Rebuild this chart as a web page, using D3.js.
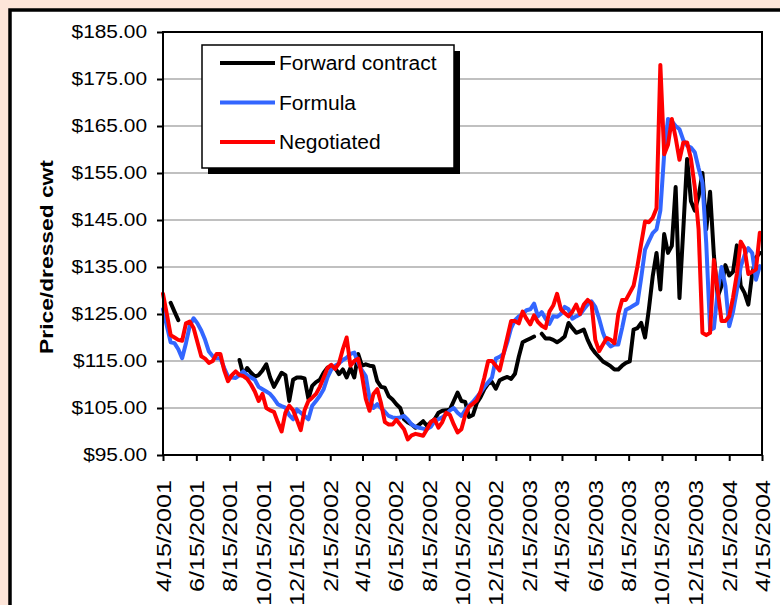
<!DOCTYPE html>
<meta charset="UTF-8">
<style>
body { margin: 0; background: #fde5d9; }
svg { display: block; }
text { font-family: "Liberation Sans", Arial, sans-serif; fill: #000; }
.grid line { stroke: #c0c0c0; stroke-width: 2px; }
.series { fill: none; stroke-width: 4px; stroke-linejoin: round; stroke-linecap: round; }
</style>
<body>
<script src="https://cdn.jsdelivr.net/npm/d3@7/dist/d3.min.js"></script>
<script>

// weekly prices, first week 4/15/2001 (null = no report that week)
var firstWeek = "4/15/2001";

var tickLabels = ["4/15/2001", "6/15/2001", "8/15/2001", "10/15/2001", "12/15/2001",
  "2/15/2002", "4/15/2002", "6/15/2002", "8/15/2002", "10/15/2002", "12/15/2002",
  "2/15/2003", "4/15/2003", "6/15/2003", "8/15/2003", "10/15/2003", "12/15/2003",
  "2/15/2004", "4/15/2004"];

var yTicks = [95, 105, 115, 125, 135, 145, 155, 165, 175, 185];

var forwardContract = [
  null, null, 127.4, 125.5, 123.7, null, null, null, null, null,
  null, null, null, null, null, null, null, null, null, null,
  115.2, 112, 113.5, 112.5, 111.7, 112, 113, 114.3, 111.5, 109.5,
  111, 112.5, 112, 106.5, 111, 111.5, 111.5, 111.3, 107, 109.7,
  110.5, 111, 112.5, 113.6, 113.6, 113.5, 112.2, 113.2, 111.5, 113.5,
  111.5, 116.5, 114, 114.3, 114, 113.9, 110.7, 109.5, 109.3, 107.5,
  106.8, 105.8, 105, 102.6, 101.9, 101.5, 100.8, 101.5, 102.2, 101.2,
  102, 102.6, 104, 104.4, 104.5, 104.7, 106.5, 108.3, 106.5, 106.3,
  103.1, 103.5, 106, 107.3, 109, 110.2, 110.5, 109.1, 110.9, 111.3,
  111.6, 111.2, 112.3, 115.9, 119, 119.4, 119.8, 120.2, null, 120.8,
  119.8, 119.8, 119.5, 119, 119.5, 120.2, 123.1, 122, 121, 121.3,
  121.7, 119.5, 117.8, 116.7, 115.8, 114.9, 114.4, 113.9, 113.2, 113.2,
  114, 114.6, 114.9, 121.7, 122, 123.1, 120, 126, 133, 138,
  130.2, 142, 138, 139.5, 152, 128.4, 143, 158, 149, 147,
  150, 155, 143, 151, 137.5, 128.7, 131, 135.4, 133.2, 134,
  139.6, 131, 129.5, 127, 133.5, 137, 138
];

var formula = [
  126, 122.5, 119, 118.8, 117.5, 115.6, 118.8, 122.5, 124.1, 123,
  121.5, 119.5, 117, 116, 115.6, 115.6, 113.5, 111.7, 111.5, 111.4,
  112, 112.8, 112, 111.5, 111, 109.5, 109, 108.5, 108, 107,
  105.8, 105.4, 105.1, 103.5, 102.6, 104.7, 104, 103.3, 102.6, 105.5,
  106.5, 107.6, 109, 111.5, 113.2, 114, 114.5, 115.2, 115.7, 116.5,
  116.8, 114.5, 113, 111.8, 107, 105, 105.8, 105, 104.2, 103.3,
  103, 102.9, 103, 103.3, 102.5, 101.5, 101, 100.8, 100.6, 100.5,
  101, 102.2, 102.6, 103, 103.7, 104.5, 105, 104, 103.3, 104.5,
  105.5, 106.3, 107.3, 108.3, 109.5, 110.5, 111.5, 115.5, 115.9, 116.5,
  119, 122, 123.7, 124.5, 125, 125.8, 126, 127.2, 124.5, 125.4,
  124, 122.9, 124.5, 124.4, 125, 126.5, 126, 124, 124.5, 124.9,
  126, 127, 127.7, 126.5, 124, 121, 119, 118.1, 118.5, 118.5,
  122, 125.9, 126.3, 126.8, 127.3, 132.7, 138.7, 140.5, 142.2, 143,
  147, 159, 166.5, 166, 165, 164.3, 162, 160.8, 160.4, 159.4,
  156, 153, 140, 121.6, 122, 130, 135, 131, 122.4, 125.5,
  130, 135, 137.5, 139, 138, 132.3, 135.2
];

var negotiated = [
  129.3, 125, 120.5, 120, 119.5, 119.3, 123, 123.4, 122, 119,
  116, 115.5, 114.6, 115, 116.5, 116.5, 113, 110.7, 112, 112.8,
  112, 111.8, 111.2, 110, 108.5, 106.5, 108, 105, 104.5, 104.2,
  102, 100, 104, 105.5, 104.5, 102.5, 100.3, 104.5, 106.5, 107.2,
  108, 109.5, 111.5, 113.5, 114.2, 113.3, 114.5, 117.5, 120, 114,
  115, 115.5, 112, 107, 104.4, 108, 109, 106, 102, 101.5,
  101.5, 102.5, 101.5, 100.5, 98.3, 99.2, 99.5, 99.3, 99.1, 100.5,
  102, 102.6, 100.8, 102, 104, 103.5, 101.5, 99.8, 100.5, 103.5,
  105.3, 105.9, 106.6, 108.5, 111.5, 115, 115, 114, 113, 116.5,
  120, 123.5, 123.5, 123, 125.5, 124, 122.8, 124.7, 123.3, 122.5,
  122, 125.5, 126.8, 129.3, 126, 125.2, 124.5, 125.5, 127, 125,
  127, 128, 127.3, 119.5, 117.1, 118.5, 119.9, 119.5, 118.8, 125,
  128, 128, 129.5, 131, 135.1, 140, 144.7, 144.5, 145.5, 147.5,
  178, 159, 161, 166.5, 162.5, 157.8, 161.5, 161.5, 158, 152,
  143, 121, 120.5, 121, 136.5, 130, 123.5, 123.5, 124.5, 128.5,
  133.5, 140.4, 139, 133.5, 134, 134.5, 142.3
];

var seriesNames = ["Forward contract", "Formula", "Negotiated"];
var seriesColors = ["#000000", "#3366ff", "#ff0000"];
var seriesValues = [forwardContract, formula, negotiated];

var W = 780, H = 605;
var margin = {top: 32, right: 18, bottom: 150, left: 163};

var parseDate = d3.timeParse("%m/%d/%Y");
var start = parseDate(firstWeek);
var tickDates = tickLabels.map(parseDate);

var svg = d3.select("body").append("svg")
    .attr("width", W)
    .attr("height", H);

// white frame
svg.append("rect")
    .attr("x", 10).attr("y", 10)
    .attr("width", W + 20).attr("height", H + 20)
    .attr("fill", "#fff")
    .attr("stroke", "#000")
    .attr("stroke-width", 3.5);

var x = d3.scaleTime()
    .domain([tickDates[0], tickDates[tickDates.length - 1]])
    .range([margin.left, W - margin.right]);

var y = d3.scaleLinear()
    .domain([95, 185])
    .range([H - margin.bottom, margin.top]);

// stretch text a bit, the original fonts run wide
function widen(sel, f) {
  sel.each(function() {
    var l = this.getComputedTextLength();
    d3.select(this).attr("textLength", l * f).attr("lengthAdjust", "spacingAndGlyphs");
  });
}

// gridlines
svg.append("g").attr("class", "grid")
  .selectAll("line")
  .data(yTicks.slice(1, -1))
  .enter().append("line")
    .attr("x1", margin.left).attr("x2", W - margin.right)
    .attr("y1", function(d) { return y(d); })
    .attr("y2", function(d) { return y(d); });

// y axis
var yAxis = svg.append("g")
    .attr("transform", "translate(" + margin.left + ",0)")
    .call(d3.axisLeft(y).tickValues(yTicks).tickFormat(d3.format("$.2f")).tickSize(6).tickPadding(10));
yAxis.select(".domain").remove();
yAxis.selectAll(".tick line").attr("stroke", "#000").attr("stroke-width", 2);
yAxis.selectAll(".tick text")
    .attr("font-family", "Liberation Sans, Arial, sans-serif")
    .attr("font-size", 18);
widen(yAxis.selectAll(".tick text"), 1.16);

// x axis
var xAxis = svg.append("g")
    .attr("transform", "translate(0," + (H - margin.bottom) + ")")
    .call(d3.axisBottom(x).tickValues(tickDates).tickFormat(function(d, i) { return tickLabels[i]; }).tickSize(6));
xAxis.select(".domain").remove();
xAxis.selectAll(".tick line").attr("stroke", "#000").attr("stroke-width", 2);
xAxis.selectAll(".tick text")
    .attr("font-family", "Liberation Sans, Arial, sans-serif")
    .attr("font-size", 20)
    .attr("text-anchor", "end")
    .attr("transform", "rotate(-90)")
    .attr("x", -25)
    .attr("y", 0)
    .attr("dy", "0.35em");
widen(xAxis.selectAll(".tick text"), 1.26);

// lines
var line = d3.line()
    .defined(function(d) { return d != null; })
    .x(function(d, i) { return x(d3.timeDay.offset(start, 7 * i)); })
    .y(function(d) { return y(d); });

seriesValues.forEach(function(vals, k) {
  svg.append("path")
    .attr("class", "series")
    .attr("stroke", seriesColors[k])
    .attr("d", line(vals));
});

// plot frame
svg.append("rect")
    .attr("x", margin.left).attr("y", margin.top)
    .attr("width", W - margin.right - margin.left)
    .attr("height", H - margin.bottom - margin.top)
    .attr("fill", "none")
    .attr("stroke", "#000")
    .attr("stroke-width", 2);

// axis title
var yTitle = svg.append("text")
    .attr("transform", "translate(46,257) rotate(-90)")
    .attr("text-anchor", "middle")
    .attr("dy", "0.35em")
    .attr("font-size", 19)
    .attr("font-weight", "bold")
    .text("Price/dressed cwt");
widen(yTitle, 1.2);

// legend
var lg = svg.append("g").attr("transform", "translate(202,45)");
lg.append("rect")
    .attr("x", 6).attr("y", 6)
    .attr("width", 252).attr("height", 123)
    .attr("fill", "#000");
lg.append("rect")
    .attr("width", 252).attr("height", 123)
    .attr("fill", "#fff")
    .attr("stroke", "#000")
    .attr("stroke-width", 1.5);

var item = lg.selectAll("g.item")
    .data(seriesNames)
  .enter().append("g")
    .attr("class", "item")
    .attr("transform", function(d, i) { return "translate(0," + (18 + i * 39.5) + ")"; });
item.append("line")
    .attr("x1", 18).attr("x2", 73)
    .attr("stroke", function(d, i) { return seriesColors[i]; })
    .attr("stroke-width", 4);
var itemText = item.append("text")
    .attr("x", 77)
    .attr("dy", "0.35em")
    .attr("font-size", 20)
    .text(function(d) { return d; });
widen(itemText, 1.05);

</script>
</body>
